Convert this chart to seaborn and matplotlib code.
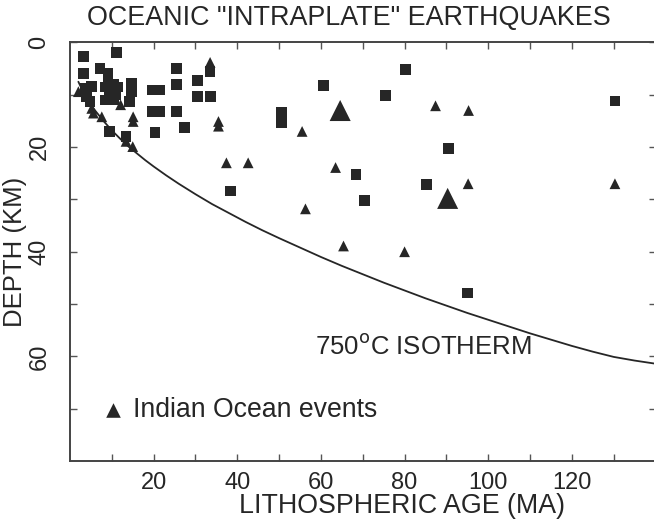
import matplotlib
matplotlib.use("Agg")
import matplotlib.pyplot as plt
import seaborn as sns

# ---- data ----
sq_age = [3.3, 11.1, 3.2, 7.2, 9.1, 9.1, 8.5, 10.5, 9.5, 11.0, 8.5, 10.5, 11.5,
          3.6, 5.2, 4.0, 4.8, 9.4, 13.4, 14.7, 14.7, 14.3, 19.7, 21.5, 19.7,
          21.5, 20.3, 25.5, 25.5, 25.5, 27.4, 30.4, 30.4, 33.6, 33.5, 38.4,
          50.5, 50.5, 60.6, 68.4, 70.4, 75.4, 80.3, 85.3, 90.5, 95.0, 130.3]
sq_depth = [2.7, 1.9, 5.9, 4.9, 5.9, 7.1, 8.5, 8.0, 9.5, 10.0, 11.0, 11.0, 8.5,
            8.8, 8.4, 10.3, 11.3, 17.0, 18.0, 7.8, 9.4, 11.3, 9.1, 9.1, 13.2,
            13.2, 17.2, 5.0, 8.0, 13.2, 16.2, 7.2, 10.3, 10.3, 5.5, 28.4,
            13.3, 15.3, 8.2, 25.2, 30.2, 10.2, 5.2, 27.1, 20.2, 47.9, 11.2]

tri_age = [2.0, 5.2, 5.6, 7.6, 12.1, 15.1, 15.1, 13.4, 15.0, 33.5, 35.5, 35.5,
           37.4, 42.6, 55.5, 56.3, 63.5, 65.4, 80.0, 87.4, 95.3, 95.2, 130.3]
tri_depth = [9.4, 12.6, 13.5, 14.2, 11.9, 14.2, 15.1, 18.9, 19.9, 3.8, 15.1, 16.0,
             23.0, 23.0, 17.0, 31.8, 23.9, 38.9, 40.0, 12.1, 13.0, 27.0, 27.0]

big_tri_age = [64.6, 90.3]
big_tri_depth = [13.0, 29.8]

iso_age = [2, 3, 4, 5, 6, 7, 8, 9, 10, 12, 14, 16, 18, 20, 23, 26, 30, 34, 38,
           42, 46, 50, 55, 60, 65, 70, 75, 80, 85, 90, 95, 100, 105, 110, 115,
           120, 125, 130, 135, 140]
iso_depth = [7.5, 9.2, 10.6, 11.9, 13.0, 14.0, 15.0, 15.9, 16.8, 18.4, 19.9,
             21.2, 22.5, 23.7, 25.4, 27.0, 29.0, 30.9, 32.6, 34.3, 35.9, 37.4,
             39.2, 41.0, 42.7, 44.3, 45.9, 47.4, 48.9, 50.3, 51.7, 53.0, 54.3,
             55.6, 56.8, 58.0, 59.1, 60.1, 60.8, 61.4]

x_ticks = [20, 40, 60, 80, 100, 120]
y_ticks = [0, 20, 40, 60]

# ---- styling ----
sns.set_style("ticks")
plt.rcParams['font.family'] = ['Liberation Sans', 'DejaVu Sans']
ink = "#262626"

fig = plt.figure(figsize=(6.54, 5.23), dpi=100)
ax_w = 585.5
ax = fig.add_axes([70 / 654, 62 / 523, ax_w / 654, 418.5 / 523])

sns.lineplot(x=iso_age, y=iso_depth, ax=ax, color=ink, linewidth=1.3,
             estimator=None, sort=False)
sns.scatterplot(x=sq_age, y=sq_depth, ax=ax, marker="s", s=60, color=ink,
                edgecolor="none", linewidth=0)
sns.scatterplot(x=tri_age, y=tri_depth, ax=ax, marker="^", s=60, color=ink,
                edgecolor="none", linewidth=0)
sns.scatterplot(x=big_tri_age, y=big_tri_depth, ax=ax, marker="^", s=230,
                color=ink, edgecolor="none", linewidth=0)

ax.set_xlim(0, 140)
ax.set_ylim(80, 0)
ax.set_xticks(x_ticks)
ax.set_xticks(list(range(10, 140, 10)), minor=True)
ax.set_yticks(y_ticks)
ax.set_yticks(list(range(10, 80, 10)), minor=True)
ax.tick_params(which="both", direction="in", top=True, right=True,
               color="#555555", width=1, length=5)
ax.tick_params(axis="x", labelsize=17, pad=8, labelcolor=ink)
ax.tick_params(axis="y", labelsize=17, pad=14, labelcolor=ink)
for lab in ax.get_yticklabels():
    lab.set_rotation(90)
    lab.set_va("center")
for sp in ax.spines.values():
    sp.set_color("#444444")
    sp.set_linewidth(1.4)

ax.set_xlabel("LITHOSPHERIC AGE (MA)", fontsize=19.3, color=ink)
ax.xaxis.set_label_coords((402 - 70) / ax_w, -0.077)
ax.set_ylabel("DEPTH (KM)", fontsize=18.5, color=ink)
ax.yaxis.set_label_coords((27 - 70) / ax_w, 0.5)
fig.text(349 / 654, 0.965, 'OCEANIC "INTRAPLATE" EARTHQUAKES', ha="center",
         va="center", fontsize=19.4, color=ink)

ax.text(58.5, 58.2, "750$^{\\mathrm{o}}$C ISOTHERM", fontsize=18.5, color=ink,
        va="center", ha="left")
ax.scatter([10.3], [70.3], marker="^", s=110, color=ink, linewidths=0)
ax.text(15, 70.3, "Indian Ocean events", fontsize=19.2, color=ink,
        va="center", ha="left")

fig.savefig("out.png", dpi=100, facecolor="white")
